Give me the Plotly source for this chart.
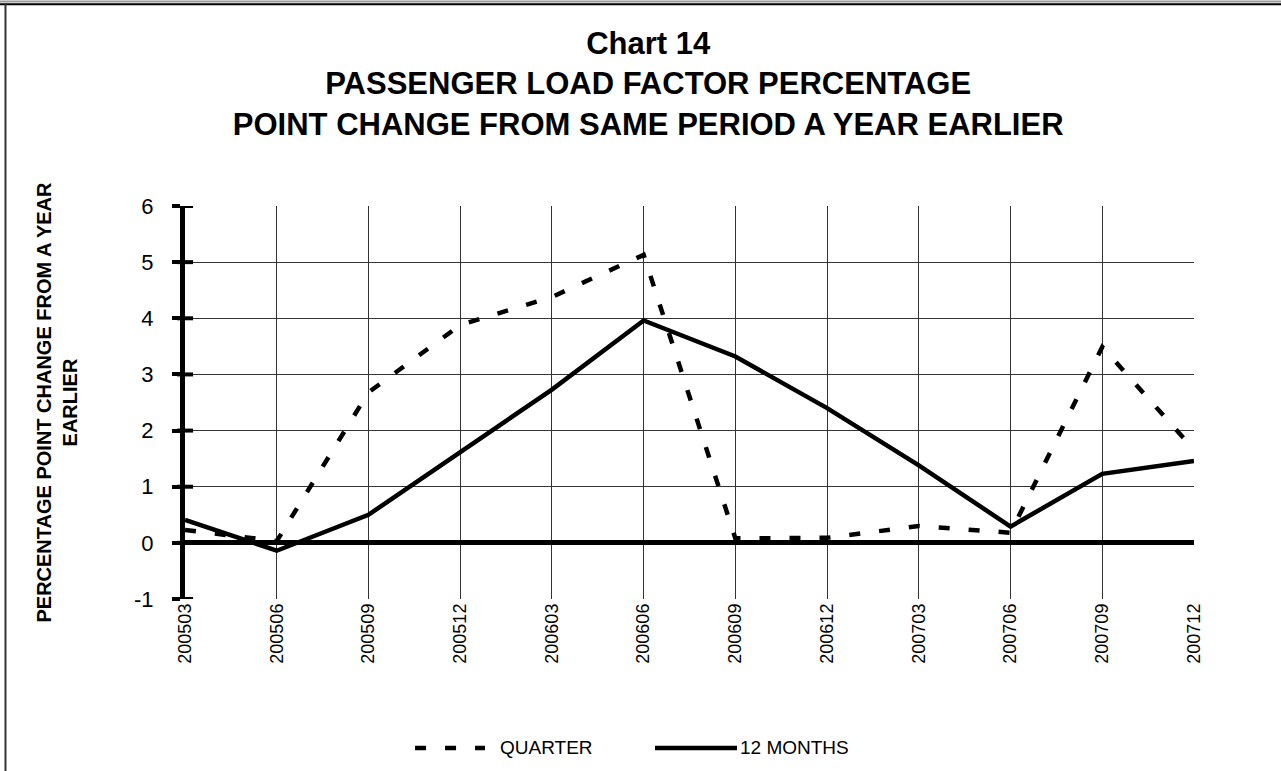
import plotly.graph_objects as go

# ---- data ----
periods = ["200503", "200506", "200509", "200512", "200603", "200606",
           "200609", "200612", "200703", "200706", "200709", "200712"]
quarter = [0.23, 0.03, 2.68, 3.88, 4.38, 5.13, 0.08, 0.09, 0.30, 0.18, 3.49, 1.66]
twelve_months = [0.41, -0.14, 0.50, 1.62, 2.73, 3.96, 3.32, 2.40, 1.38, 0.29, 1.23, 1.46]
y_ticks = [-1, 0, 1, 2, 3, 4, 5, 6]
y_tick_text = ["-1", "0", "1", "2", "3", "4", "5", "6"]
series_names = ["QUARTER", "12 MONTHS"]

FONT = "Arial, Liberation Sans, sans-serif"
DASH = "11px,19px"

fig = go.Figure()
fig.add_trace(go.Scatter(x=periods, y=quarter, mode="lines", name=series_names[0],
                         line=dict(color="black", width=4.5, dash=DASH), showlegend=False))
fig.add_trace(go.Scatter(x=periods, y=twelve_months, mode="lines", name=series_names[1],
                         line=dict(color="black", width=4.5), showlegend=False))

# crossing tick marks on the zero line (x categories) and on the y axis
shapes = []
for p in periods:
    shapes.append(dict(type="line", xref="x", yref="y", x0=p, x1=p, y0=-0.12, y1=0.12,
                       line=dict(color="black", width=4), layer="above"))
for v in y_ticks:
    shapes.append(dict(type="line", xref="paper", yref="y", x0=-0.008, x1=0.008, y0=v, y1=v,
                       line=dict(color="black", width=4), layer="above"))

# page frame (top double rule, left rule)
shapes += [
    dict(type="line", xref="paper", yref="paper", x0=-0.19, x1=1.1, y0=1.5204, y1=1.5204,
         line=dict(color="#999999", width=2)),
    dict(type="line", xref="paper", yref="paper", x0=-0.19, x1=1.1, y0=1.5135, y1=1.5135,
         line=dict(color="black", width=2)),
    dict(type="line", xref="paper", yref="paper", x0=-0.1779, x1=-0.1779, y0=1.515, y1=-0.44,
         line=dict(color="#333333", width=2)),
]

# manual legend
leg_y = -0.3791
shapes += [
    dict(type="line", xref="paper", yref="paper", x0=0.228, x1=0.2973, y0=leg_y, y1=leg_y,
         line=dict(color="black", width=4.5, dash=DASH)),
    dict(type="line", xref="paper", yref="paper", x0=0.4658, x1=0.5471, y0=leg_y, y1=leg_y,
         line=dict(color="black", width=4.5)),
]
annotations = [
    dict(text=series_names[0], xref="paper", yref="paper", x=0.3102, y=leg_y, xanchor="left",
         yanchor="middle", showarrow=False, font=dict(family=FONT, size=19, color="black")),
    dict(text=series_names[1], xref="paper", yref="paper", x=0.548, y=leg_y, xanchor="left",
         yanchor="middle", showarrow=False, font=dict(family=FONT, size=19, color="black")),
    dict(text="<b>PERCENTAGE POINT CHANGE FROM A YEAR<br>EARLIER</b>", xref="paper", yref="paper",
         x=-0.1278, y=0.5, xanchor="center", yanchor="middle", textangle=-90, showarrow=False,
         font=dict(family=FONT, size=20, color="black")),
]

fig.update_layout(
    width=1281, height=771,
    margin=dict(l=185, r=87, t=206, b=172),
    paper_bgcolor="white", plot_bgcolor="white",
    font=dict(family=FONT, color="black"),
    title=dict(text="<b>Chart 14<br>PASSENGER LOAD FACTOR PERCENTAGE<br>POINT CHANGE FROM SAME PERIOD A YEAR EARLIER</b>",
               x=0.506, xref="container", xanchor="center",
               y=1 - 54 / 771, yref="container", yanchor="middle",
               font=dict(family=FONT, size=31, color="black")),
    shapes=shapes,
    annotations=annotations,
)
fig.update_xaxes(type="category", range=[0, len(periods) - 1], showgrid=True,
                 gridcolor="#333333", gridwidth=1, showline=False, zeroline=False,
                 ticks="", tickangle=-90, tickfont=dict(family=FONT, size=18, color="black"))
fig.update_yaxes(range=[-1, 6], tickvals=y_ticks, ticktext=y_tick_text,
                 showgrid=True, gridcolor="#333333", gridwidth=1,
                 showline=True, linewidth=5, linecolor="black",
                 zeroline=True, zerolinewidth=5, zerolinecolor="black",
                 ticks="outside", ticklen=8, tickwidth=4, tickcolor="black",
                 ticklabelstandoff=14,
                 tickfont=dict(family=FONT, size=22, color="black"))

fig.write_html("out.html", config={"displayModeBar": False},
               post_script="document.body.style.margin='0';")
